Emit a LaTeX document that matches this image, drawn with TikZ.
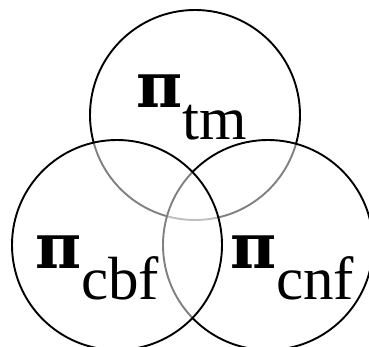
\documentclass[tikz,border=0pt]{standalone}
\usepackage{fontspec}
\setmainfont{Liberation Serif}
\newfontfamily\pifont{DejaVu Serif}
\newcommand{\mypi}{{\pifont\bfseries\fontsize{63}{63}\selectfont π}}
\begin{document}
\begin{tikzpicture}[x=1pt,y=-1pt,
  ring/.style={circle, draw=black, line width=1.9pt, minimum size=210pt, inner sep=0pt, fill=white, fill opacity=0.5},
  lbl/.style={anchor=base west, inner sep=0pt, font=\fontsize{61}{61}\selectfont}]
\useasboundingbox (0,0) rectangle (369,347);
\node[ring] (tm) at (195,115) {};
\node[ring] (cnf) at (268,245) {};
\node[ring] (cbf) at (117,245) {};
\node[lbl] (ltm) at (136,108) {\mypi\raisebox{-32pt}{tm}};
\node[lbl] (lcbf) at (35,268) {\mypi\raisebox{-32pt}{cbf}};
\node[lbl] (lcnf) at (230,268) {\mypi\raisebox{-32pt}{cnf}};
\end{tikzpicture}
\end{document}
